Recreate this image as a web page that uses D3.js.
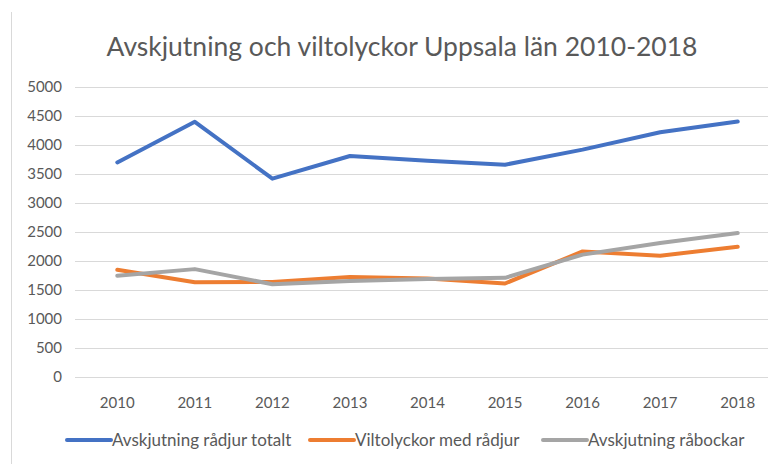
<!DOCTYPE html>
<html>
<head>
  <meta charset="utf-8">
  <title>Avskjutning och viltolyckor</title>
  <style>
    body { margin: 0; background: #fff; }
    text { font-family: Lato, "Open Sans", sans-serif; fill: #595959; }
  </style>
</head>
<body>
  <div id="chart"></div>

  <script src="https://d3js.org/d3.v7.min.js"></script>
  <script>
    // Data
    const years = ["2010", "2011", "2012", "2013", "2014", "2015", "2016", "2017", "2018"];
    const totalt = [3700, 4400, 3420, 3810, 3730, 3660, 3920, 4220, 4405];
    const viltolyckor = [1850, 1635, 1640, 1725, 1700, 1612, 2165, 2092, 2245];
    const rabockar = [1745, 1860, 1600, 1655, 1690, 1710, 2110, 2312, 2483];
    const yTicks = [0, 500, 1000, 1500, 2000, 2500, 3000, 3500, 4000, 4500, 5000];

    const series = [
      { name: "Avskjutning rådjur totalt", values: totalt, color: "#4472c4" },
      { name: "Viltolyckor med rådjur", values: viltolyckor, color: "#ed7d31" },
      { name: "Avskjutning råbockar", values: rabockar, color: "#a5a5a5" }
    ];

    const width = 768, height = 464;

    const svg = d3.select("#chart")
      .append("svg")
      .attr("width", width)
      .attr("height", height);

    // chart frame edge on the left
    svg.append("line")
      .attr("x1", 11.5).attr("x2", 11.5)
      .attr("y1", 12).attr("y2", height)
      .attr("stroke", "#d9d9d9")
      .attr("stroke-width", 1);

    // title
    svg.append("text")
      .attr("x", 402)
      .attr("y", 56)
      .attr("text-anchor", "middle")
      .style("font-size", "26.5px")
      .text("Avskjutning och viltolyckor Uppsala län 2010-2018");

    // scales
    const x = d3.scaleBand()
      .domain(years)
      .range([78.5, 776.5]);

    const y = d3.scaleLinear()
      .domain([0, 5000])
      .range([377, 87]);

    const cx = d => x(d) + x.bandwidth() / 2;

    // gridlines
    svg.append("g")
      .selectAll("line")
      .data(yTicks)
      .enter()
      .append("line")
      .attr("x1", 75)
      .attr("x2", width)
      .attr("y1", d => Math.round(y(d)) + 0.5)
      .attr("y2", d => Math.round(y(d)) + 0.5)
      .attr("stroke", "#d9d9d9")
      .attr("stroke-width", 1);

    // y labels
    svg.append("g")
      .selectAll("text")
      .data(yTicks)
      .enter()
      .append("text")
      .attr("x", 62)
      .attr("y", d => y(d))
      .attr("dy", "0.35em")
      .attr("text-anchor", "end")
      .style("font-size", "15px")
      .text(d => d);

    // x labels
    svg.append("g")
      .selectAll("text")
      .data(years)
      .enter()
      .append("text")
      .attr("x", d => cx(d))
      .attr("y", 403)
      .attr("dy", "0.35em")
      .attr("text-anchor", "middle")
      .style("font-size", "15px")
      .text(d => d);

    // lines
    const line = d3.line()
      .x((d, i) => cx(years[i]))
      .y(d => y(d));

    svg.append("g")
      .selectAll("path")
      .data(series)
      .enter()
      .append("path")
      .attr("d", d => line(d.values))
      .attr("fill", "none")
      .attr("stroke", d => d.color)
      .attr("stroke-width", 4)
      .attr("stroke-linejoin", "round")
      .attr("stroke-linecap", "round");

    // legend
    const legendX = [67, 310, 543];
    const legend = svg.append("g")
      .selectAll("g")
      .data(series)
      .enter()
      .append("g")
      .attr("transform", (d, i) => `translate(${legendX[i]}, 440)`);

    legend.append("line")
      .attr("x1", 0).attr("x2", 44)
      .attr("y1", 0).attr("y2", 0)
      .attr("stroke", d => d.color)
      .attr("stroke-width", 4)
      .attr("stroke-linecap", "round");

    legend.append("text")
      .attr("x", 45)
      .attr("y", 0)
      .attr("dy", "0.35em")
      .style("font-size", "17px")
      .text(d => d.name);
  </script>
</body>
</html>
